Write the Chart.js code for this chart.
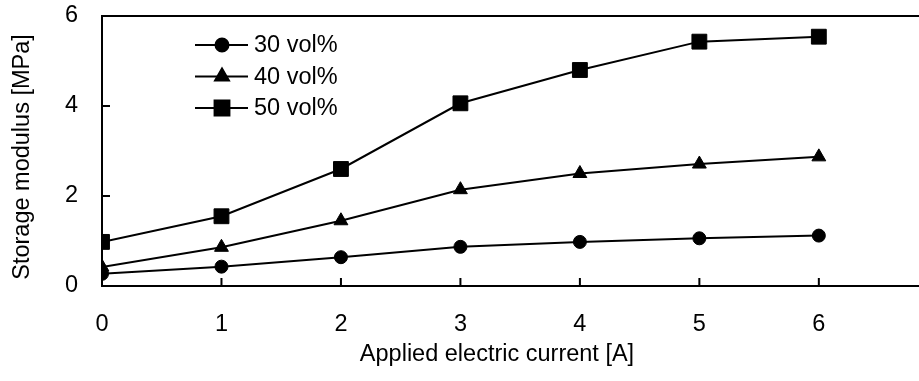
<!DOCTYPE html>
<html>
<head>
<meta charset="utf-8">
<script src="https://cdn.jsdelivr.net/npm/chart.js@4/dist/chart.umd.min.js"></script>
<style>
  html, body { margin: 0; padding: 0; background: #fff; overflow: hidden; }
  #wrap { width: 919px; height: 381px; }
</style>
</head>
<body>
<div id="wrap"><canvas id="grafico" width="919" height="381"></canvas></div>
<script>
const currents = [0, 1, 2, 3, 4, 5, 6];
const vol30 = [0.27, 0.43, 0.64, 0.87, 0.98, 1.06, 1.12];
const vol40 = [0.42, 0.86, 1.45, 2.14, 2.50, 2.71, 2.87];
const vol50 = [0.98, 1.55, 2.60, 4.06, 4.80, 5.43, 5.54];
const seriesNames = ["30 vol%", "40 vol%", "50 vol%"];
const yTicks = [0, 2, 4, 6];
const xTicks = [0, 1, 2, 3, 4, 5, 6];

const FONT = "'Liberation Sans', Arial, sans-serif";
const FS = 23.5;
const pts = vals => currents.map((c, i) => ({ x: c, y: vals[i] }));

function serie(label, vals, style, radius) {
  return {
    label: label,
    data: pts(vals),
    borderColor: "#000",
    backgroundColor: "#000",
    borderWidth: 2,
    pointStyle: style,
    pointRadius: radius,
    pointHoverRadius: radius,
    pointBorderWidth: 1,
    tension: 0
  };
}

// marcas internas, borda de cima, títulos e legenda
const extras = {
  id: "extras",
  afterDraw(chart) {
    const { ctx, chartArea: a, scales: { x, y } } = chart;
    ctx.save();
    ctx.strokeStyle = "#000";
    ctx.lineWidth = 2;
    ctx.beginPath();
    ctx.moveTo(a.left - 1, a.top);
    ctx.lineTo(a.right + 2, a.top);
    yTicks.forEach(v => {
      const py = y.getPixelForValue(v);
      ctx.moveTo(a.left, py);
      ctx.lineTo(a.left + 8, py);
    });
    xTicks.forEach(v => {
      const px = x.getPixelForValue(v);
      ctx.moveTo(px, a.bottom);
      ctx.lineTo(px, a.bottom - 8);
    });
    ctx.stroke();

    ctx.fillStyle = "#000";
    ctx.font = FS + "px " + FONT;
    ctx.textAlign = "center";
    ctx.textBaseline = "middle";
    ctx.fillText("Applied electric current [A]", 497, 355);
    ctx.save();
    ctx.translate(23, 157);
    ctx.rotate(-Math.PI / 2);
    ctx.fillText("Storage modulus [MPa]", 0, 0);
    ctx.restore();

    // legenda
    chart.data.datasets.forEach((ds, i) => {
      const ly = 45 + i * 31.5;
      ctx.beginPath();
      ctx.moveTo(195, ly);
      ctx.lineTo(248, ly);
      ctx.stroke();
      ctx.fillStyle = "#000";
      Chart.helpers.drawPoint(ctx, {
        pointStyle: ds.pointStyle, radius: ds.pointRadius, rotation: 0, borderWidth: 1
      }, 222, ly);
      ctx.textAlign = "left";
      ctx.fillText(seriesNames[i], 254, ly + 1);
    });
    ctx.restore();
  }
};

new Chart(document.getElementById("grafico"), {
  type: "line",
  data: {
    datasets: [
      serie(seriesNames[0], vol30, "circle", 6.5),
      serie(seriesNames[1], vol40, "triangle", 8),
      serie(seriesNames[2], vol50, "rect", 10.5)
    ]
  },
  options: {
    responsive: false,
    animation: false,
    layout: { autoPadding: false, padding: { left: 0, top: 16, right: 1, bottom: 0 } },
    plugins: { legend: { display: false }, tooltip: { enabled: false } },
    scales: {
      x: {
        type: "linear",
        min: 0,
        max: 6.83,
        afterFit: s => { s.height = 95; s.paddingLeft = 0; s.paddingRight = 0; },
        grid: { display: false, drawTicks: false },
        border: { display: true, color: "#000", width: 2 },
        ticks: {
          stepSize: 1,
          includeBounds: false,
          padding: 24,
          color: "#000",
          font: { size: FS, family: FONT }
        }
      },
      y: {
        min: 0,
        max: 6,
        afterFit: s => { s.width = 102; s.paddingTop = 0; s.paddingBottom = 0; },
        grid: { display: false, drawTicks: false },
        border: { display: true, color: "#000", width: 2 },
        ticks: {
          stepSize: 2,
          padding: 24,
          color: "#000",
          font: { size: FS, family: FONT }
        }
      }
    }
  },
  plugins: [extras]
});
</script>
</body>
</html>
